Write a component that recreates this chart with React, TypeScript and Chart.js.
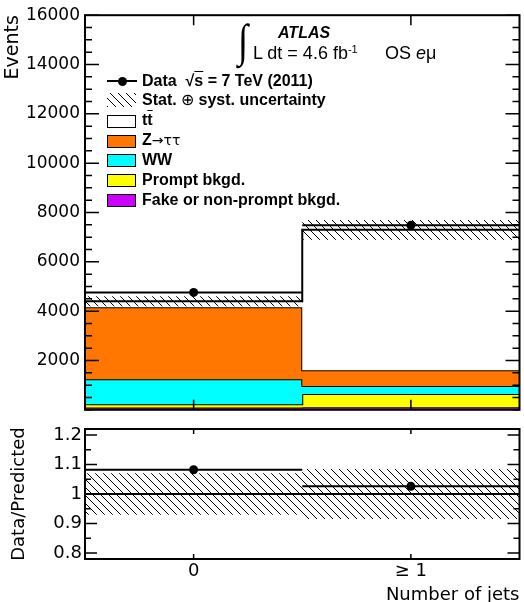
import React, { useEffect, useRef } from 'react';
import { Chart, registerables } from 'chart.js';

Chart.register(...registerables);

// ---------------- data ----------------
const categories = ['0', '≥ 1'];
const binEdges = [-0.5, 0.5, 1.5];
const binCenters = [0, 1];
const fakeBkgd = [90, 100];
const promptBkgd = [130, 540];
const wwBkgd = [1020, 320];
const ztautau = [2920, 640];
const ttbar = [240, 5700];
const dataEvents = [4760, 7480];
const totalUnc = [200, 400];
const ratioData = [1.082, 1.026];
const ratioUnc = [0.07, 0.085];
const eventTickLabels = [2000, 4000, 6000, 8000, 10000, 12000, 14000, 16000];
const ratioTickLabels = [0.8, 0.9, 1, 1.1, 1.2];

const FONT_AXIS = "'DejaVu Sans', sans-serif";
const FONT_TEXT = "'Liberation Sans', Arial, Helvetica, sans-serif";

function stepPts(vals: number[]) {
  const pts = vals.map((v, i) => ({ x: binEdges[i], y: v }));
  pts.push({ x: binEdges[vals.length], y: vals[vals.length - 1] });
  return pts;
}
function barPts(vals: number[]) {
  const pts: any[] = [];
  vals.forEach((v, i) => {
    if (i > 0) pts.push({ x: binEdges[i], y: null });
    pts.push({ x: binEdges[i], y: v }, { x: binEdges[i + 1], y: v });
  });
  return pts;
}
function cumulative(layers: number[][]) {
  const out: number[][] = [];
  let run = layers[0].map(() => 0);
  for (const l of layers) {
    run = run.map((r, i) => r + l[i]);
    out.push(run);
  }
  return out;
}
function makeHatch() {
  const c = document.createElement('canvas');
  c.width = 8;
  c.height = 8;
  const g = c.getContext('2d')!;
  g.strokeStyle = '#000';
  g.lineWidth = 1;
  g.beginPath();
  g.moveTo(-1, -1); g.lineTo(9, 9);
  g.moveTo(-1, 7); g.lineTo(1, 9);
  g.moveTo(7, -1); g.lineTo(9, 1);
  g.stroke();
  return g.createPattern(c, 'repeat')!;
}

const framePlugin = {
  id: 'rootFrame',
  afterDraw(chart: any, _a: any, opts: any) {
    const { ctx, chartArea: a, scales } = chart;
    const ys = scales.y;
    const xs = scales.x;
    ctx.save();
    ctx.strokeStyle = '#000';
    ctx.lineWidth = 1.5;
    ctx.beginPath();
    for (const t of ys.ticks) {
      const py = ys.getPixelForValue(t.value);
      if (py < a.top - 0.5 || py > a.bottom + 0.5) continue;
      const len = t.label !== '' && t.label != null ? opts.yMajor : opts.yMinor;
      ctx.moveTo(a.left, py); ctx.lineTo(a.left + len, py);
      ctx.moveTo(a.right, py); ctx.lineTo(a.right - len, py);
    }
    for (const v of binCenters) {
      const px = xs.getPixelForValue(v);
      ctx.moveTo(px, a.top); ctx.lineTo(px, a.top + opts.xLen);
      ctx.moveTo(px, a.bottom); ctx.lineTo(px, a.bottom - opts.xLen);
    }
    ctx.stroke();
    ctx.lineWidth = 2;
    ctx.strokeRect(a.left, a.top, a.right - a.left, a.bottom - a.top);
    ctx.restore();
  },
};

const baseOpts = {
  animation: false as const,
  responsive: false,
  events: [] as any[],
  elements: { line: { tension: 0 }, point: { radius: 0 } },
};

export default function App() {
  const topRef = useRef<HTMLCanvasElement>(null);
  const botRef = useRef<HTMLCanvasElement>(null);

  useEffect(() => {
    const hatch = makeHatch();
    const [cFake, cPrompt, cWW, cZ, cTT] = cumulative([fakeBkgd, promptBkgd, wwBkgd, ztautau, ttbar]);
    const bandUp = cTT.map((v, i) => v + totalUnc[i]);
    const bandDn = cTT.map((v, i) => v - totalUnc[i]);
    const stackLine = { stepped: true, borderColor: '#000', borderWidth: 2, pointRadius: 0 };

    const top = new Chart(topRef.current!, {
      type: 'line',
      data: {
        datasets: [
          { data: dataEvents.map((v, i) => ({ x: binCenters[i], y: v })), showLine: false, pointRadius: 4.5, pointBackgroundColor: '#000', pointBorderWidth: 0 },
          { data: barPts(dataEvents), borderColor: '#000', borderWidth: 2, pointRadius: 0, spanGaps: false },
          { data: stepPts(bandUp), stepped: true, borderColor: 'transparent', pointRadius: 0, fill: 3, backgroundColor: hatch },
          { data: stepPts(bandDn), stepped: true, borderColor: 'transparent', pointRadius: 0, fill: false },
          { data: stepPts(cTT), ...stackLine, fill: 5, backgroundColor: '#ffffff' },
          { data: stepPts(cZ), ...stackLine, fill: 6, backgroundColor: '#ff7700' },
          { data: stepPts(cWW), ...stackLine, fill: 7, backgroundColor: '#00ffff' },
          { data: stepPts(cPrompt), ...stackLine, fill: 8, backgroundColor: '#ffff00' },
          { data: stepPts(cFake), ...stackLine, fill: 'origin', backgroundColor: '#cc00ff' },
        ] as any,
      },
      options: {
        ...baseOpts,
        layout: { padding: { top: 15, right: 4, bottom: 10, left: 0 } },
        plugins: { legend: { display: false }, tooltip: { enabled: false }, rootFrame: { yMajor: 14, yMinor: 7, xLen: 10 } } as any,
        scales: {
          x: {
            type: 'linear', min: -0.5, max: 1.5, display: false,
            afterBuildTicks: (s: any) => { s.ticks = binCenters.map((v) => ({ value: v })); },
          },
          y: {
            type: 'linear', min: 0, max: 16000,
            afterBuildTicks: (s: any) => {
              const t: any[] = [];
              for (let v = 0; v <= 16000; v += 500) t.push({ value: v });
              s.ticks = t;
            },
            afterFit: (s: any) => { s.width = 85; },
            grid: { display: false, drawTicks: false },
            border: { display: false },
            ticks: {
              autoSkip: false, padding: 5, color: '#000',
              font: { family: FONT_AXIS, size: 17 },
              callback: (v: any) => (eventTickLabels.includes(Number(v)) ? String(v) : ''),
            },
            title: {
              display: true, text: 'Events', align: 'end', color: '#000',
              font: { family: FONT_AXIS, size: 19 }, padding: { top: 2, bottom: 0 },
            },
          },
        } as any,
      },
      plugins: [framePlugin],
    });

    const rUp = ratioUnc.map((u) => 1 + u);
    const rDn = ratioUnc.map((u) => 1 - u);
    const bot = new Chart(botRef.current!, {
      type: 'line',
      data: {
        datasets: [
          { data: ratioData.map((v, i) => ({ x: binCenters[i], y: v })), showLine: false, pointRadius: 4.5, pointBackgroundColor: '#000', pointBorderWidth: 0 },
          { data: barPts(ratioData), borderColor: '#000', borderWidth: 2, pointRadius: 0, spanGaps: false },
          { data: stepPts(ratioData.map(() => 1)), stepped: true, borderColor: '#000', borderWidth: 2, pointRadius: 0 },
          { data: stepPts(rUp), stepped: true, borderColor: 'transparent', pointRadius: 0, fill: 4, backgroundColor: hatch },
          { data: stepPts(rDn), stepped: true, borderColor: 'transparent', pointRadius: 0, fill: false },
        ] as any,
      },
      options: {
        ...baseOpts,
        layout: { padding: { top: 19, right: 4, bottom: 0, left: 0 } },
        plugins: { legend: { display: false }, tooltip: { enabled: false }, rootFrame: { yMajor: 12, yMinor: 6, xLen: 5 } } as any,
        scales: {
          x: {
            type: 'linear', min: -0.5, max: 1.5,
            afterBuildTicks: (s: any) => { s.ticks = binCenters.map((v) => ({ value: v })); },
            afterFit: (s: any) => { s.height = 43; },
            grid: { display: false, drawTicks: false },
            border: { display: false },
            ticks: {
              autoSkip: false, padding: 2, maxRotation: 0, color: '#000',
              font: { family: FONT_AXIS, size: 18 },
              callback: (v: any) => categories[binCenters.indexOf(Number(v))] ?? '',
            },
            title: {
              display: true, text: 'Number of jets', align: 'end', color: '#000',
              font: { family: FONT_AXIS, size: 18, lineHeight: 0.75 }, padding: { top: 0, bottom: 0 },
            },
          },
          y: {
            type: 'linear', min: 0.78, max: 1.22,
            afterBuildTicks: (s: any) => {
              const t: any[] = [];
              for (let k = 0; k <= 8; k++) t.push({ value: Math.round(80 + k * 5) / 100 });
              s.ticks = t;
            },
            afterFit: (s: any) => { s.width = 85; },
            grid: { display: false, drawTicks: false },
            border: { display: false },
            ticks: {
              autoSkip: false, padding: 3, color: '#000',
              font: { family: FONT_AXIS, size: 18 },
              callback: (v: any) => {
                const n = Number(v);
                const hit = ratioTickLabels.find((r) => Math.abs(r - n) < 1e-6);
                return hit === undefined ? '' : hit === 1 ? '1' : hit.toFixed(1);
              },
            },
            title: {
              display: true, text: 'Data/Predicted', align: 'center', color: '#000',
              font: { family: FONT_AXIS, size: 18 }, padding: { top: 9, bottom: 0 },
            },
          },
        } as any,
      },
      plugins: [framePlugin],
    });

    return () => {
      top.destroy();
      bot.destroy();
    };
  }, []);

  const txt: React.CSSProperties = {
    position: 'absolute', fontFamily: FONT_TEXT, color: '#000', whiteSpace: 'pre', lineHeight: '18px',
  };
  const legText: React.CSSProperties = { ...txt, left: 142, fontWeight: 'bold', fontSize: 16, height: 18 };
  const box = (cy: number, color: string): React.CSSProperties => ({
    position: 'absolute', left: 107, top: cy - 6.5, width: 29, height: 13,
    boxSizing: 'border-box', border: '1.5px solid #000', background: color,
  });

  return (
    <div style={{ position: 'absolute', left: 0, top: 0, width: 524, height: 602, background: '#fff', overflow: 'hidden' }}>
      <canvas ref={topRef} width={524} height={425} style={{ position: 'absolute', left: 0, top: 0, width: 524, height: 425 }} />
      <canvas ref={botRef} width={524} height={192} style={{ position: 'absolute', left: 0, top: 410, width: 524, height: 192 }} />

      {/* ATLAS label */}
      <div style={{ ...txt, left: 278, top: 23.5, fontSize: 16, fontWeight: 'bold', fontStyle: 'italic' }}>ATLAS</div>
      <div style={{
        ...txt, left: 238, top: 16, fontSize: 46, lineHeight: '50px',
        fontFamily: "'Liberation Serif', 'DejaVu Serif', serif", fontWeight: 'normal',
        transform: 'scaleX(0.8)', transformOrigin: 'left top',
      }}>∫</div>
      <div style={{ ...txt, left: 253, top: 43, fontSize: 18, lineHeight: '20px' }}>
        L dt = 4.6 fb<sup style={{ fontSize: 11, verticalAlign: 'top', position: 'relative', top: -4 }}>-1</sup>
      </div>
      <div style={{ ...txt, left: 385, top: 43, fontSize: 18, lineHeight: '20px' }}>
        OS <i>e</i>μ
      </div>

      {/* legend */}
      <div style={{ position: 'absolute', left: 107, top: 80, width: 30, height: 2, background: '#000' }} />
      <div style={{ position: 'absolute', left: 117.5, top: 76.5, width: 9, height: 9, borderRadius: '50%', background: '#000' }} />
      <div style={{ ...legText, top: 72 }}>
        {'Data  √'}<span style={{ textDecoration: 'overline' }}>s</span>{' = 7 TeV (2011)'}
      </div>

      <div style={{
        position: 'absolute', left: 107, top: 93, width: 29, height: 14,
        background: 'repeating-linear-gradient(45deg, #000 0px, #000 1px, transparent 1px, transparent 5.66px)',
      }} />
      <div style={{ ...legText, top: 91 }}>
        {'Stat. '}<span style={{ fontWeight: 'normal' }}>⊕</span>{' syst. uncertainty'}
      </div>

      <div style={box(121, '#ffffff')} />
      <div style={{ ...legText, top: 111 }}>
        t<span style={{ textDecoration: 'overline' }}>t</span>
      </div>

      <div style={box(141, '#ff7700')} />
      <div style={{ ...legText, top: 131 }}>
        Z<span style={{ fontWeight: 'normal', fontSize: 14, fontFamily: "'DejaVu Sans', sans-serif" }}>→ττ</span>
      </div>

      <div style={box(160, '#00ffff')} />
      <div style={{ ...legText, top: 151 }}>WW</div>

      <div style={box(180, '#ffff00')} />
      <div style={{ ...legText, top: 171 }}>Prompt bkgd.</div>

      <div style={box(200, '#cc00ff')} />
      <div style={{ ...legText, top: 191 }}>Fake or non-prompt bkgd.</div>
    </div>
  );
}
